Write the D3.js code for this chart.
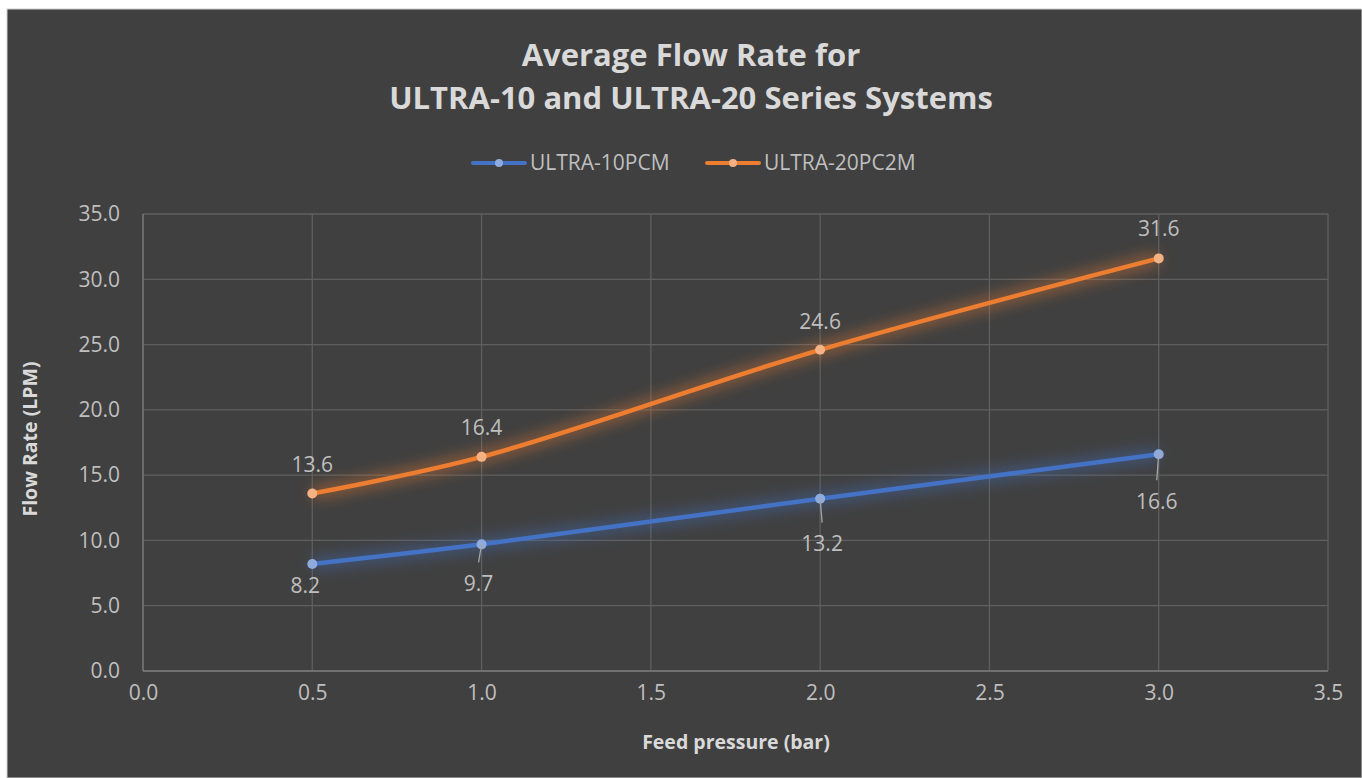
<!DOCTYPE html>
<html>
<head>
<meta charset="utf-8">
<script src="https://cdn.jsdelivr.net/npm/d3@7"></script>
<style>
  body { margin: 0; background: #fff; }
  text { font-family: "Open Sans", sans-serif; }
</style>
</head>
<body>
<div id="chart"></div>
<script>
// data
var pressures = [0.5, 1.0, 2.0, 3.0];
var ultra10 = [8.2, 9.7, 13.2, 16.6];
var ultra20 = [13.6, 16.4, 24.6, 31.6];
var seriesNames = ["ULTRA-10PCM", "ULTRA-20PC2M"];
var xTicks = [0, 0.5, 1, 1.5, 2, 2.5, 3, 3.5];
var yTicks = [0, 5, 10, 15, 20, 25, 30, 35];

var width = 1362, height = 778;
var plotLeft = 143, plotRight = 1328, plotTop = 214, plotBottom = 671;

var svg = d3.select("#chart").append("svg")
    .attr("width", width)
    .attr("height", height);

svg.append("rect")
    .attr("x", 7).attr("y", 9)
    .attr("width", width - 7).attr("height", height - 9)
    .attr("fill", "#404040")
    .attr("stroke", "#d0d0d0")
    .attr("stroke-width", 1);

var defs = svg.append("defs");
defs.append("filter").attr("id", "glow")
    .attr("x", "-20%").attr("y", "-50%").attr("width", "140%").attr("height", "200%")
    .append("feGaussianBlur").attr("stdDeviation", 7);

var x = d3.scaleLinear().domain([0, 3.5]).range([plotLeft, plotRight]);
var y = d3.scaleLinear().domain([0, 35]).range([plotBottom, plotTop]);

// grid
svg.append("g").selectAll("line").data(yTicks).enter().append("line")
    .attr("x1", plotLeft).attr("x2", plotRight)
    .attr("y1", function(d) { return y(d); }).attr("y2", function(d) { return y(d); })
    .attr("stroke", "#5f5f5f").attr("stroke-width", 1.3);
svg.append("g").selectAll("line").data(xTicks).enter().append("line")
    .attr("y1", plotTop).attr("y2", plotBottom)
    .attr("x1", function(d) { return x(d); }).attr("x2", function(d) { return x(d); })
    .attr("stroke", "#5f5f5f").attr("stroke-width", 1.3);

// axes
var xAxis = svg.append("g")
    .attr("transform", "translate(0," + plotBottom + ")")
    .call(d3.axisBottom(x).tickValues(xTicks).tickFormat(d3.format(".1f")).tickSize(0).tickPadding(14));
var yAxis = svg.append("g")
    .attr("transform", "translate(" + plotLeft + ",0)")
    .call(d3.axisLeft(y).tickValues(yTicks).tickFormat(d3.format(".1f")).tickSize(0).tickPadding(23));
[xAxis, yAxis].forEach(function(a) {
    a.select(".domain").remove();
    a.selectAll("text").attr("fill", "#bfbfbf").style("font-size", "21px")
        .style("font-family", "'Open Sans', sans-serif");
});
svg.append("line").attr("x1", plotLeft).attr("x2", plotRight).attr("y1", plotBottom).attr("y2", plotBottom)
    .attr("stroke", "#7a7a7a").attr("stroke-width", 1.3);
svg.append("line").attr("x1", plotLeft).attr("x2", plotLeft).attr("y1", plotTop).attr("y2", plotBottom)
    .attr("stroke", "#7a7a7a").attr("stroke-width", 1.3);

// titles
var title = svg.append("text").attr("text-anchor", "middle")
    .attr("fill", "#d9d9d9").style("font-size", "31px").style("font-weight", "bold");
title.append("tspan").attr("x", 691).attr("y", 66).text("Average Flow Rate for");
title.append("tspan").attr("x", 691).attr("y", 109).text("ULTRA-10 and ULTRA-20 Series Systems");

svg.append("text").attr("x", 736).attr("y", 749).attr("text-anchor", "middle")
    .attr("fill", "#d9d9d9").style("font-size", "19.5px").style("font-weight", "bold")
    .text("Feed pressure (bar)");
svg.append("text").attr("transform", "translate(37,439) rotate(-90)").attr("text-anchor", "middle")
    .attr("fill", "#d9d9d9").style("font-size", "19.5px").style("font-weight", "bold")
    .text("Flow Rate (LPM)");

var series = [
    { name: seriesNames[0], values: ultra10, color: "#4472c4", marker: "#8faadc" },
    { name: seriesNames[1], values: ultra20, color: "#ed7d31", marker: "#f4b183" }
];

var line = d3.line()
    .x(function(d, i) { return x(pressures[i]); })
    .y(function(d) { return y(d); })
    .curve(d3.curveCatmullRom.alpha(0.5));

series.forEach(function(s) {
    svg.append("path").attr("d", line(s.values))
        .attr("fill", "none").attr("stroke", s.color).attr("stroke-width", 14)
        .attr("opacity", 0.4).attr("filter", "url(#glow)");
    svg.append("path").attr("d", line(s.values))
        .attr("fill", "none").attr("stroke", s.color).attr("stroke-width", 4.5)
        .attr("stroke-linecap", "round");
    svg.append("g").selectAll("circle").data(s.values).enter().append("circle")
        .attr("cx", function(d, i) { return x(pressures[i]); })
        .attr("cy", function(d) { return y(d); })
        .attr("r", 5)
        .attr("fill", s.marker);
});

// data labels (offsets from the point in px)
var blueOff = [[-7, 22], [-3, 39], [2, 45], [-2, 47]];
var orangeOff = [[0, -29], [0, -29], [0, -28], [0, -30]];

function labels(s, off, lead) {
    var g = svg.append("g");
    s.values.forEach(function(v, i) {
        var px = x(pressures[i]), py = y(v);
        if (lead && off[i][1] > 30) {
            g.append("line")
                .attr("x1", px).attr("y1", py)
                .attr("x2", px + off[i][0]).attr("y2", py + off[i][1] - 21)
                .attr("stroke", "#a6a6a6").attr("stroke-width", 1.3);
        }
        g.append("text")
            .attr("x", px + off[i][0]).attr("y", py + off[i][1])
            .attr("text-anchor", "middle").attr("dy", "0.35em")
            .attr("fill", "#bfbfbf").style("font-size", "21px")
            .text(v.toFixed(1));
    });
}
labels(series[0], blueOff, true);
labels(series[1], orangeOff, false);

// legend
var legendX = [471, 705];
series.forEach(function(s, i) {
    var g = svg.append("g").attr("transform", "translate(" + legendX[i] + ",163)");
    g.append("line").attr("x1", 2).attr("x2", 54).attr("stroke", s.color)
        .attr("stroke-width", 4).attr("stroke-linecap", "round");
    g.append("circle").attr("cx", 28).attr("r", 4).attr("fill", s.marker);
    g.append("text").attr("x", 59).attr("dy", "0.35em")
        .attr("fill", "#bfbfbf").style("font-size", "21px").text(s.name);
});
</script>
</body>
</html>
